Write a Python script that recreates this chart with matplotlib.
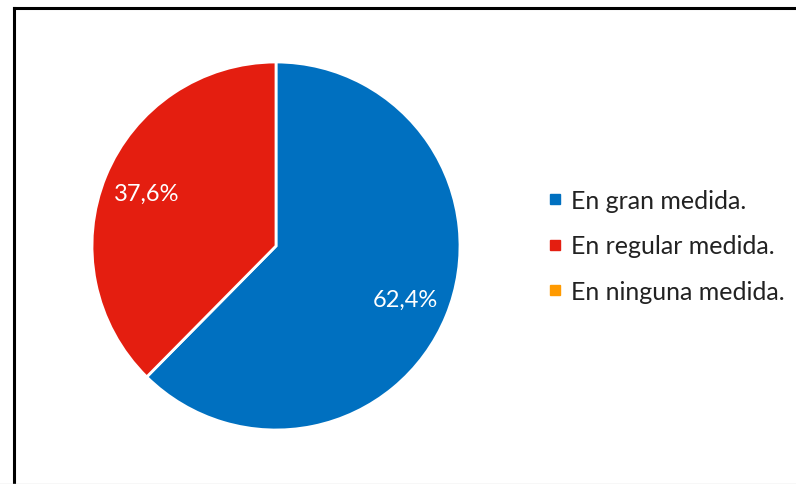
import matplotlib
matplotlib.use("Agg")
import matplotlib.pyplot as plt
from matplotlib.lines import Line2D

plt.rcParams['font.family'] = ['Lato', 'DejaVu Sans']

categories = ['En gran medida.', 'En regular medida.', 'En ninguna medida.']
values = [62.4, 37.6, 0.0]
colors = ['#0070C0', '#E41E10', '#FF9A00']

W, H = 796, 485
fig = plt.figure(figsize=(W / 100, H / 100), dpi=100)

# pie axes placed in pixel terms: centre (276, 247), radius 184
cx, cy, r = 276, 247, 184
ax = fig.add_axes([(cx - r) / W, (H - cy - r) / H, 2 * r / W, 2 * r / H])

shown = [(v, c) for v, c in zip(values, colors) if v > 0]
wedges, texts, autotexts = ax.pie(
    [v for v, _ in shown], colors=[c for _, c in shown],
    startangle=90, counterclock=False, radius=1.0,
    autopct=lambda p: f"{p:.1f}%".replace('.', ','), pctdistance=0.76,
    wedgeprops=dict(edgecolor='white', linewidth=2),
    textprops=dict(color='white', fontsize=17))
ax.set_xlim(-1.0, 1.0)
ax.set_ylim(-1.0, 1.0)
ax.set_aspect('equal')
ax.axis('off')

handles = [Line2D([], [], marker='s', linestyle='none', markersize=7,
                  markerfacecolor=c, markeredgecolor=c) for c in colors]
fig.legend(handles, categories, loc='center left', bbox_to_anchor=(526 / W, 1 - 247 / H),
           frameon=False, fontsize=18, handlelength=0.5, handletextpad=0.4,
           labelspacing=0.9, labelcolor='#222222')

# frame lines along the left and top
fig.add_artist(Line2D([13.5 / W, 13.5 / W], [0, 1 - 8.5 / H], color='black', linewidth=2.2,
                      transform=fig.transFigure, solid_capstyle='projecting'))
fig.add_artist(Line2D([13.5 / W, 1], [1 - 8.5 / H, 1 - 8.5 / H], color='black', linewidth=2.2,
                      transform=fig.transFigure, solid_capstyle='projecting'))
fig.add_artist(Line2D([0, 1], [0.5 / H, 0.5 / H], color='#d9d9d9', linewidth=1,
                      transform=fig.transFigure))

fig.savefig('out.png', dpi=100)
